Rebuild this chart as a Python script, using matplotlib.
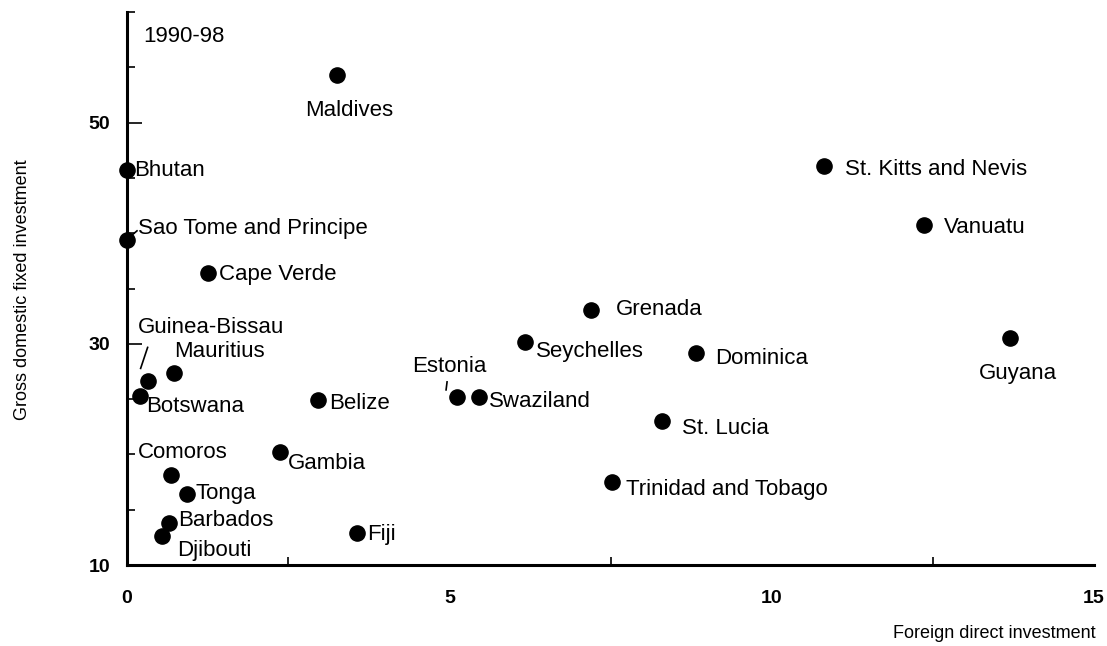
import matplotlib
matplotlib.use("Agg")
import matplotlib.pyplot as plt
import matplotlib.transforms as mtransforms
from matplotlib.ticker import MultipleLocator, FixedLocator, NullFormatter

plt.rcParams["font.family"] = ["Liberation Sans", "DejaVu Sans"]

# foreign direct investment (x) vs gross domestic fixed investment (y), 1990-98
countries = [
    "Maldives", "Bhutan", "Sao Tome and Principe", "Cape Verde", "Guinea-Bissau",
    "Mauritius", "Botswana", "Belize", "Comoros", "Gambia", "Tonga", "Barbados",
    "Djibouti", "Fiji", "Estonia", "Swaziland", "Seychelles", "Grenada",
    "Dominica", "St. Lucia", "Trinidad and Tobago", "St. Kitts and Nevis",
    "Vanuatu", "Guyana",
]
fdi = [3.26, 0.0, 0.0, 1.25, 0.32, 0.73, 0.20, 2.97, 0.68, 2.38, 0.93, 0.65,
       0.54, 3.56, 5.12, 5.46, 6.17, 7.19, 8.83, 8.30, 7.52, 10.81, 12.36, 13.69]
gdfi = [54.3, 45.7, 39.4, 36.4, 26.6, 27.4, 25.3, 24.9, 18.1, 20.2, 16.4, 13.8,
        12.6, 12.9, 25.2, 25.2, 30.2, 33.1, 29.2, 23.0, 17.5, 46.1, 40.7, 30.5]

# label placement: offset in pixels (right, up) and horizontal alignment
label_pos = {
    "Maldives": (12, -35, "center"),
    "Bhutan": (7, 0, "left"),
    "Sao Tome and Principe": (11, 11, "left"),
    "Cape Verde": (11, -1, "left"),
    "Guinea-Bissau": (-10, 54, "left"),
    "Mauritius": (0, 21, "left"),
    "Botswana": (6, -11, "left"),
    "Belize": (11, -3, "left"),
    "Comoros": (-33, 23, "left"),
    "Gambia": (7, -11, "left"),
    "Tonga": (9, 1, "left"),
    "Barbados": (9, 2, "left"),
    "Djibouti": (15, -14, "left"),
    "Fiji": (11, -2, "left"),
    "Estonia": (-8, 30, "center"),
    "Swaziland": (10, -5, "left"),
    "Seychelles": (11, -10, "left"),
    "Grenada": (25, 0, "left"),
    "Dominica": (19, -6, "left"),
    "St. Lucia": (20, -7, "left"),
    "Trinidad and Tobago": (14, -7, "left"),
    "St. Kitts and Nevis": (21, -4, "left"),
    "Vanuatu": (20, -2, "left"),
    "Guyana": (8, -35, "center"),
}
# short leader strokes, pixel offsets from the point
leaders = {
    "Sao Tome and Principe": [(3, 3), (10, 9)],
    "Guinea-Bissau": [(-7, 13), (0, 34)],
    "Estonia": [(-11, 7), (-10, 15)],
}

fig = plt.figure(figsize=(11.07, 6.46), dpi=100)
ax = fig.add_axes([127 / 1107, 1 - 565 / 646, 967 / 1107, 553 / 646])

ax.scatter(fdi, gdfi, s=120, color="black", zorder=3, clip_on=False)

for name, x, y in zip(countries, fdi, gdfi):
    dx, dy, ha = label_pos[name]
    ax.annotate(name, (x, y), xytext=(dx, dy), textcoords="offset pixels",
                ha=ha, va="center", fontsize=16)
    if name in leaders:
        (x0, y0), (x1, y1) = leaders[name]
        tr = mtransforms.IdentityTransform() + mtransforms.ScaledTranslation(x, y, ax.transData)
        ax.plot([x0, x1], [y0, y1], color="black", lw=1.2, transform=tr, clip_on=False)

ax.set_xlim(0, 15)
ax.set_ylim(10, 60)
ax.xaxis.set_major_locator(FixedLocator([0, 5, 10, 15]))
ax.xaxis.set_minor_locator(MultipleLocator(2.5))
ax.yaxis.set_major_locator(FixedLocator([10, 30, 50]))
ax.yaxis.set_minor_locator(FixedLocator([15, 20, 25, 35, 40, 45, 55, 60]))
ax.yaxis.set_minor_formatter(NullFormatter())

ax.tick_params(axis="both", which="both", direction="in", width=1.2, colors="black")
ax.tick_params(axis="y", which="major", length=11, pad=12, labelsize=14)
ax.tick_params(axis="y", which="minor", length=6)
ax.tick_params(axis="x", which="major", length=0, pad=18, labelsize=14)
ax.tick_params(axis="x", which="minor", length=6)
for lab in ax.get_xticklabels() + ax.get_yticklabels():
    lab.set_fontweight("bold")

for side in ("top", "right"):
    ax.spines[side].set_visible(False)
ax.spines["left"].set_linewidth(2.2)
ax.spines["bottom"].set_linewidth(2.2)

fig.text(143 / 1107, 1 - 36 / 646, "1990-98", fontsize=16, va="center")
fig.text(1096 / 1107, 1 - 634 / 646, "Foreign direct investment", ha="right",
         va="center", fontsize=13)
fig.text(23 / 1107, 1 - 290 / 646, "Gross domestic fixed investment", rotation=90,
         ha="center", va="center", fontsize=13)

fig.savefig("out.png", dpi=100)
